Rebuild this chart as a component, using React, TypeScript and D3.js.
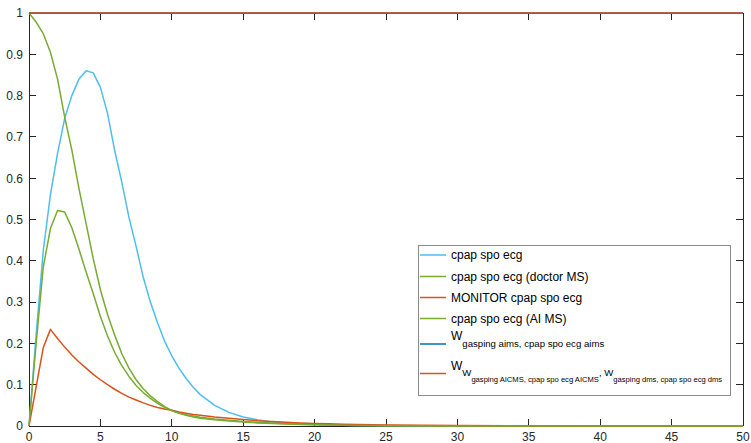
import * as d3 from "d3";

// sample positions (x) shared by the four response curves
const xs = [
  0, 0.5, 1, 1.5, 2, 2.5, 3, 3.5, 4, 4.5, 5, 5.5, 6, 6.5, 7, 7.5, 8, 8.5, 9, 9.5, 10, 10.5, 11, 11.5, 12,
  13, 14, 15, 16, 17, 18, 19, 20, 21, 22, 23, 24, 25, 30, 35, 40, 45, 50,
];

const cpapSpoEcg = [
  0, 0.22, 0.425, 0.56, 0.66, 0.745, 0.8, 0.84, 0.86, 0.855, 0.82, 0.757, 0.667, 0.59, 0.505, 0.435, 0.36, 0.3, 0.25, 0.205, 0.17, 0.14, 0.115, 0.094, 0.076,
  0.05, 0.033, 0.022, 0.015, 0.01, 0.007, 0.005, 0.0035, 0.0025, 0.0018, 0.0013, 0.001, 0.0007, 0.0002, 0.0001, 0, 0, 0,
];

const doctorMS = [
  1, 0.978, 0.95, 0.905, 0.84, 0.748, 0.668, 0.575, 0.49, 0.405, 0.33, 0.27, 0.22, 0.175, 0.14, 0.112, 0.09, 0.073, 0.059, 0.047, 0.038, 0.032, 0.027, 0.024, 0.021,
  0.017, 0.014, 0.011, 0.009, 0.007, 0.0055, 0.0045, 0.0035, 0.0028, 0.0022, 0.0017, 0.0013, 0.001, 0.0003, 0.0001, 0, 0, 0,
];

const monitor = [
  0, 0.095, 0.19, 0.234, 0.212, 0.191, 0.172, 0.155, 0.14, 0.125, 0.112, 0.1, 0.089, 0.079, 0.07, 0.063, 0.056, 0.05, 0.045, 0.041, 0.038, 0.034, 0.031, 0.028, 0.026,
  0.022, 0.019, 0.016, 0.013, 0.011, 0.009, 0.0075, 0.0063, 0.0052, 0.0043, 0.0036, 0.003, 0.0025, 0.001, 0.0004, 0.0002, 0.0001, 0,
];

const aiMS = [
  0, 0.2, 0.385, 0.478, 0.522, 0.518, 0.48, 0.428, 0.373, 0.32, 0.265, 0.218, 0.178, 0.146, 0.12, 0.098, 0.081, 0.067, 0.055, 0.045, 0.037, 0.031, 0.026, 0.022, 0.019,
  0.015, 0.012, 0.0095, 0.0075, 0.006, 0.0048, 0.0038, 0.003, 0.0024, 0.0019, 0.0015, 0.0012, 0.0009, 0.0003, 0.0001, 0, 0, 0,
];

// the two W curves sit flat at 1 over the whole range
const wX = [0, 10, 20, 30, 40, 50];
const wGaspingAims = [1, 1, 1, 1, 1, 1];
const wWCombined = [1, 1, 1, 1, 1, 1];

const xTicks = [0, 5, 10, 15, 20, 25, 30, 35, 40, 45, 50];
const yTicks = [0, 0.1, 0.2, 0.3, 0.4, 0.5, 0.6, 0.7, 0.8, 0.9, 1];

const FONT = "'Liberation Sans', Arial, Helvetica, sans-serif";
const AXIS = "#262626";

const W = 751;
const H = 443;
const plot = { left: 29, right: 743, top: 13, bottom: 426 };
const TICK = 7;

export default function App() {
  const x = d3.scaleLinear().domain([0, 50]).range([plot.left, plot.right]);
  const y = d3.scaleLinear().domain([0, 1]).range([plot.bottom, plot.top]);

  const series = [
    { key: "cpap", px: xs, py: cpapSpoEcg, color: "#4DBEEE" },
    { key: "doctor", px: xs, py: doctorMS, color: "#77AC30" },
    { key: "monitor", px: xs, py: monitor, color: "#D95319" },
    { key: "ai", px: xs, py: aiMS, color: "#77AC30" },
    { key: "waims", px: wX, py: wGaspingAims, color: "#0072BD" },
    { key: "ww", px: wX, py: wWCombined, color: "#D95319" },
  ];

  const line = (px: number[], py: number[]) =>
    d3
      .line<number>()
      .x((_, i) => x(px[i]))
      .y((d) => y(d))(py) ?? "";

  // legend geometry
  const lg = { x0: 418, x1: 730, y0: 245, y1: 395 };
  const lineX0 = 420;
  const lineX1 = 446;
  const textX = 451;
  const rows = [
    { color: "#4DBEEE", cy: 255, label: "cpap spo ecg" },
    { color: "#77AC30", cy: 276.5, label: "cpap spo ecg (doctor MS)" },
    { color: "#D95319", cy: 297.5, label: "MONITOR cpap spo ecg" },
    { color: "#77AC30", cy: 318.5, label: "cpap spo ecg (AI MS)" },
  ];

  return (
    <svg
      width={W}
      height={H}
      style={{ position: "absolute", left: 0, top: 0, display: "block", background: "#fff" }}
      fontFamily={FONT}
    >
      <rect x={0} y={0} width={W} height={H} fill="#fff" />

      {/* axes box */}
      <g stroke={AXIS} strokeWidth={1} fill="none" shapeRendering="crispEdges">
        <line x1={plot.left} x2={plot.right} y1={plot.bottom} y2={plot.bottom} />
        <line x1={plot.left} x2={plot.right} y1={plot.top} y2={plot.top} />
        <line x1={plot.left} x2={plot.left} y1={plot.top} y2={plot.bottom} />
        <line x1={plot.right} x2={plot.right} y1={plot.top} y2={plot.bottom} />
        {xTicks.map((t) => (
          <g key={"xt" + t}>
            <line x1={x(t)} x2={x(t)} y1={plot.bottom} y2={plot.bottom - TICK} />
            <line x1={x(t)} x2={x(t)} y1={plot.top} y2={plot.top + TICK} />
          </g>
        ))}
        {yTicks.map((t) => (
          <g key={"yt" + t}>
            <line x1={plot.left} x2={plot.left + TICK} y1={y(t)} y2={y(t)} />
            <line x1={plot.right} x2={plot.right - TICK} y1={y(t)} y2={y(t)} />
          </g>
        ))}
      </g>

      <g fill={AXIS} fontSize={12}>
        {xTicks.map((t) => (
          <text key={"xl" + t} x={x(t)} y={441} textAnchor="middle">
            {d3.format("d")(t)}
          </text>
        ))}
        {yTicks.map((t) => (
          <text key={"yl" + t} x={23} y={y(t) + 4.3} textAnchor="end">
            {String(+t.toFixed(1))}
          </text>
        ))}
      </g>

      {/* data */}
      <g fill="none" strokeWidth={1.5} strokeLinejoin="round">
        {series.map((s) => (
          <path key={s.key} d={line(s.px, s.py)} stroke={s.color} />
        ))}
      </g>

      {/* legend */}
      <g>
        <rect
          x={lg.x0}
          y={lg.y0}
          width={lg.x1 - lg.x0}
          height={lg.y1 - lg.y0}
          fill="#fff"
          stroke="#8a8a8a"
          strokeWidth={1}
          shapeRendering="crispEdges"
        />
        {rows.map((r) => (
          <g key={r.label}>
            <line x1={lineX0} x2={lineX1} y1={r.cy} y2={r.cy} stroke={r.color} strokeWidth={1.5} />
            <text x={textX} y={r.cy + 4} fontSize={12} fill="#000">
              {r.label}
            </text>
          </g>
        ))}
        <line x1={lineX0} x2={lineX1} y1={344} y2={344} stroke="#0072BD" strokeWidth={1.5} />
        <text x={textX} y={340} fontSize={12} fill="#000">
          W
          <tspan dy={7} fontSize={9.6}>
            gasping aims, cpap spo ecg aims
          </tspan>
        </text>
        <line x1={lineX0} x2={lineX1} y1={373.5} y2={373.5} stroke="#D95319" strokeWidth={1.5} />
        <text x={textX} y={369.5} fontSize={12} fill="#000">
          W
          <tspan dy={6.5} fontSize={9.6}>W</tspan>
          <tspan dy={6} fontSize={7.6}>gasping AICMS, cpap spo ecg AICMS</tspan>
          <tspan dy={-6} fontSize={9.6}>, W</tspan>
          <tspan dy={6} fontSize={7.6}>gasping dms, cpap spo ecg dms</tspan>
        </text>
      </g>
    </svg>
  );
}
